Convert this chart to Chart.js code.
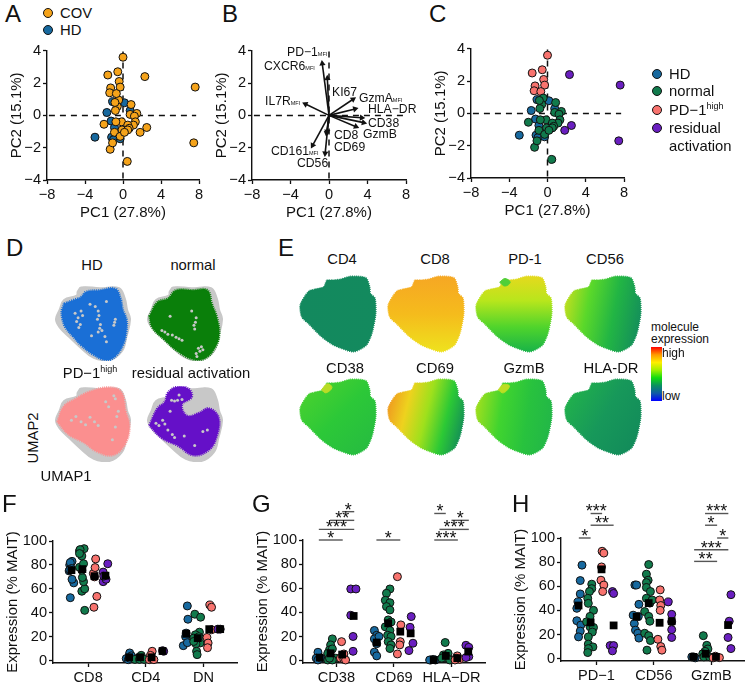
<!DOCTYPE html>
<html>
<head>
<meta charset="utf-8">
<script src="https://cdn.jsdelivr.net/npm/chart.js@4"></script>
<style>
    body { margin: 0; background: #fff; }
    #page { position: relative; width: 750px; height: 687px; overflow: hidden; font-family: "Liberation Sans", Arial, sans-serif; color: #111; }
    #page canvas { position: absolute; }
    .t { position: absolute; white-space: nowrap; transform: translateY(-50%); font-size: 14.8px; line-height: 1; }
    .c { transform: translate(-50%, -50%); }
    .letter { font-size: 24px; }
    .mfi { font-size: 5.5px; }
    sup { font-size: 9px; line-height: 0; }
    .dot { position: absolute; width: 8px; height: 8px; border-radius: 50%; border: 1px solid #111; transform: translate(-50%, -50%); }
</style>
</head>
<body>
<div id="page"></div>
<script>
// PCA scores, panels A and C
const hdPC1 = [-2.95, -1.7, -1.1, 0.15, 0.75, -1.25, -0.9, -1.2, -1.0, -0.3];
const hdPC2 = [-1.35, 0.18, 0.85, 0.78, 0.3, -0.35, -0.75, -1.35, -1.5, -1.45];
const normalPC1 = [-1.35, -1.1, 0.45, -2.0, -0.45, 0.85, -0.6, -0.85, -0.8, 1.45, 0.75, 1.2, 1.3, -0.15, -0.75, 1.1, 0.5, 0.65, -0.1, -0.9, 0.5, -0.3, 0.15];
const normalPC2 = [-2.1, -1.7, -2.85, -0.55, 0.95, 0.67, 0.55, 0.8, 0.3, 0.12, 0.06, -0.05, -0.4, -0.4, -0.4, -0.6, -0.6, -0.8, -0.9, -1.05, -0.9, -1.3, -1.05];
const pd1PC1 = [0, -1.6, -0.55, -0.4, -1.3, -0.3, -1.4, -0.7];
const pd1PC2 = [3.6, 2.5, 2.7, 2.1, 1.7, 1.75, 1.4, 1.35];
const residualPC1 = [2.3, 7.6, 7.45, 2.5, 1.8];
const residualPC2 = [2.4, 1.75, -1.7, -0.75, -1.05];
const pcXTicks = [-8, -4, 0, 4, 8];
const pcYTicks = [-4, -2, 0, 2, 4];

// Loadings, panel B
const loadingNames = ['PD-1', 'CXCR6', 'IL7R', 'KI67', 'GzmA', 'HLA-DR', 'CD38', 'GzmB', 'CD8', 'CD69', 'CD161', 'CD56'];
const loadingPC1 = [-0.17, -0.7, -2.45, 2.5, 2.7, 3.4, 3.6, 2.8, -0.25, -0.4, -1.7, -0.2];
const loadingPC2 = [2.3, 3.2, 0.7, 1.0, 0.4, -0.15, -0.45, -0.7, -1.1, -2.35, -1.85, -1.0];
const refLineX = [-7.8, 7.7];
const refLineY = [-3.9, 4];

// UMAP outlines, panel D
const umapGreyX = [29, 34, 59, 85, 93, 96, 100, 95, 89, 72, 51, 34, 18, 5, 0, 5, 11, 28];
const umapGreyY = [8, 2, 3, 3, 17, 32, 45, 69, 88, 100, 97, 84, 69, 56, 45, 32, 19, 13];
const umapHdX = [11, 24, 34, 41, 59, 80, 87, 90, 95, 95, 91, 80, 68, 51, 34, 24, 13, 9, 8];
const umapHdY = [24, 19, 15, 8, 6, 4, 17, 32, 45, 60, 78, 95, 100, 93, 80, 69, 56, 45, 34];
const umapNormalX = [2, 13, 27, 38, 61, 80, 86, 93, 96, 91, 78, 61, 40, 23, 6];
const umapNormalY = [41, 22, 17, 6, 6, 6, 24, 43, 65, 82, 97, 99, 88, 73, 56];
const umapPd1X = [2, 11, 27, 44, 71, 88, 94, 99, 92, 76, 55, 38, 17];
const umapPd1Y = [47, 26, 16, 7, 1, 7, 33, 54, 79, 92, 87, 75, 64];
const umapResidualX = [2, 13, 23, 27, 40, 55, 59, 46, 53, 69, 82, 95, 93, 82, 61, 40, 19];
const umapResidualY = [52, 29, 20, 8, 0, 3, 14, 24, 39, 35, 29, 41, 66, 85, 92, 79, 69];
const holesHdX = [26, 34, 28, 33, 57, 59, 56, 78, 80, 48, 68, 68, 46, 62, 58, 60, 57, 79, 30, 36, 31, 53, 66];
const holesHdY = [37, 34, 48, 52, 34, 57, 45, 53, 45, 67, 75, 21, 25, 60, 40, 52, 62, 49, 43, 40, 56, 28, 68];
const holesNormalX = [30, 65, 63, 27, 38, 68, 74, 59, 46, 65, 19, 64, 62, 70, 72, 66, 33, 23, 42];
const holesNormalY = [41, 43, 58, 65, 69, 84, 86, 34, 73, 91, 60, 49, 53, 88, 82, 95, 66, 62, 71];
const holesPd1X = [78, 84, 34, 57, 80, 21, 76, 46, 67, 82, 80, 40, 52, 27, 71];
const holesPd1Y = [12, 33, 47, 52, 54, 45, 71, 41, 20, 40, 16, 51, 47, 40, 27];
const holesResidualX = [42, 32, 40, 11, 27, 36, 23, 74, 63, 80, 49, 30, 36, 46, 15, 20, 33];
const holesResidualY = [11, 18, 18, 49, 58, 68, 50, 60, 79, 58, 66, 33, 19, 17, 52, 45, 64];

// Expression map outline, panel E
const mapX = [35, 42, 53, 67, 87, 92, 93, 99, 100, 96, 93, 87, 71, 53, 42, 27, 11, 2, 0, 11, 20, 31];
const mapY = [5, 5, 4, 0, 2, 14, 23, 29, 50, 72, 81, 92, 100, 95, 90, 79, 63, 54, 38, 20, 17, 14];
const markers = ['CD4', 'CD8', 'PD-1', 'CD56', 'CD38', 'CD69', 'GzmB', 'HLA-DR'];
const markerStops = [
    ['#13895e', '#138a5e'],
    ['#f6a624', '#f5bb1c', '#eee41e'],
    ['#e9d81d', '#b8e61c', '#4fd42c', '#14b04a'],
    ['#cfe01e', '#5ad82a', '#22b544', '#14905a'],
    ['#52d42c', '#2cc838', '#25b942'],
    ['#ef9620', '#eed21e', '#9fe01c', '#2cc935', '#128a5a'],
    ['#a5e01d', '#40d42f', '#28c23e', '#22b648'],
    ['#22b44a', '#17985a', '#128a5a']
];
const markerAngle = [
    [0, 0, 1, 0], [0, 0, 0, 1], [0, 0, 0, 1], [0, 0.2, 1, 0.4],
    [0, 0, 1, 1], [0, 0.35, 1, 0.6], [0, 0.4, 1, 0.55], [0, 0.2, 1, 0.8]
];
const patchX = [[], [], [31, 38, 45, 38], [], [28, 36, 42, 34], [], [29, 36, 44, 36], []];
const patchY = [[], [], [8, 3, 8, 13], [], [14, 6, 11, 18], [], [14, 7, 9, 18], []];
const patchColor = [null, null, '#50cf38', null, '#b8dc26', null, '#bcde22', null];
const colorbarStops = ['#ff0000', '#ff9a00', '#ffee00', '#a0f000', '#10dc10', '#0a9060', '#0f5aa8', '#0000ff'];

// Panel F, % of MAIT cells
const fCategories = ['CD8', 'CD4', 'DN'];
const fHDx = [0.69, 0.75, 0.72, 0.67, 0.68, 0.72, 0.69, 0.71, 0.68, 1.72, 1.66, 1.70, 1.75, 1.72, 2.72, 2.73, 2.70, 2.69, 2.65, 2.72];
const fHDy = [52.6, 65, 68, 75, 80, 83, 82, 77, 76, 6.4, 1.7, 0.8, 4, 2, 45.7, 34.6, 23, 20, 12.5, 15];
const fNormalx = [0.94, 0.89, 0.94, 0.92, 0.90, 0.89, 0.85, 0.92, 0.89, 0.85, 0.93, 0.86, 0.85, 1.92, 1.86, 1.81, 1.93, 1.89, 1.97, 2.85, 2.95, 2.93, 2.86, 2.83, 2.89, 2.94, 2.87, 2.88, 2.89, 2.92, 2.83];
const fNormaly = [42, 58, 60, 66, 69.5, 75.6, 78, 81, 87.5, 91.7, 93.6, 92.8, 89.5, 4.4, 2, 1, 2, 1, 1, 38.8, 36.3, 23.8, 21.6, 18.8, 16, 14.7, 14, 7.8, 5, 20, 16];
const fPd1x = [1.10, 1.15, 1.11, 1.09, 1.12, 1.13, 2.11, 2.08, 2.06, 2.11, 2.14, 3.11, 3.14, 3.14, 3.06, 3.08, 3.07];
const fPd1y = [44.6, 53.7, 70, 72.9, 77.8, 85, 7.8, 4.4, 0.8, 1.4, 0.8, 46.5, 44.6, 25.8, 19.4, 14.7, 10.8];
const fResidualx = [1.34, 1.26, 1.26, 1.31, 1.27, 2.29, 2.31, 3.25, 3.29];
const fResidualy = [81, 74, 66, 68, 70.6, 8.3, 7.8, 26.3, 26.3];
const fMeanx = [0.71, 0.90, 1.11, 1.30, 1.71, 1.90, 2.10, 2.29, 2.70, 2.90, 3.10, 3.29];
const fMeany = [75.6, 76.5, 70.6, 71, 2.8, 2.8, 2.8, 8, 22.4, 18.8, 26.3, 26.3];

// Panel G
const gCategories = ['CD38', 'CD69', 'HLA-DR'];
const gHDx = [0.68, 0.65, 0.71, 0.68, 0.73, 1.66, 1.70, 1.66, 1.74, 1.70, 1.66, 1.70, 2.64, 2.72, 2.68, 2.62];
const gHDy = [6.9, 2, 1.4, 0.5, 2, 25, 21, 18, 20, 14, 7, 3.9, 0.5, 0.5, 1, 0.5];
const gNormalx = [0.93, 0.90, 0.88, 0.93, 0.85, 0.90, 0.99, 0.85, 0.93, 0.88, 1.93, 1.87, 1.85, 1.93, 1.87, 1.93, 1.90, 1.95, 1.85, 1.93, 1.89, 1.95, 1.90, 1.95, 1.93, 2.89, 2.94, 2.86, 2.92, 2.97, 2.83];
const gNormaly = [18, 13, 8.8, 9.7, 6, 3.3, 2, 0.5, 0.5, 2, 59.4, 55.8, 50, 48, 44.8, 42, 33.7, 32, 28, 25, 21, 20, 15.7, 13, 10, 15, 6, 4.7, 2, 0.5, 2];
const gPd1x = [1.09, 1.13, 1.07, 1.13, 1.16, 2.06, 2.12, 2.11, 2.10, 2.06, 3.10, 3.08, 3.14, 3.06];
const gPd1y = [15.7, 5.5, 2, 1, 0.5, 69.6, 29.6, 15.7, 13, 5.5, 3.9, 2, 1, 0.5];
const gResidualx = [1.25, 1.34, 1.25, 1.29, 1.29, 2.30, 2.28, 2.33, 2.26, 3.25, 3.30, 3.30, 3.25];
const gResidualy = [59.4, 59.4, 37.6, 20, 7.7, 36.5, 27.6, 14.4, 8.3, 12.7, 11, 3.3, 2.5];
const gMeanx = [0.71, 0.90, 1.10, 1.30, 1.70, 1.90, 2.11, 2.29, 2.69, 2.90, 3.10, 3.29];
const gMeany = [2.5, 6, 5, 37, 15, 31, 24, 22.6, 0.5, 3.9, 2, 7.5];
const gBarFrom = [0.695, 0.695, 0.89, 1.10, 1.695, 2.70, 2.79, 3.0, 2.70];
const gBarTo = [1.11, 1.31, 1.31, 1.31, 2.11, 3.11, 3.30, 3.30, 2.90];
const gBarLevel = [100, 108.8, 116.3, 123.5, 100, 100, 108.8, 116.3, 122];
const gBarStars = ['*', '***', '**', '*', '*', '***', '***', '*', '*'];

// Panel H
const hCategories = ['PD-1', 'CD56', 'GzmB'];
const hHDx = [0.75, 0.72, 0.72, 0.68, 0.66, 0.66, 0.73, 0.72, 0.69, 1.67, 1.70, 1.74, 1.64, 1.73, 1.66, 1.68, 1.72, 1.74, 2.66, 2.72, 2.69];
const hHDy = [77.5, 64.7, 53.6, 47, 41.7, 31.4, 27.8, 22.8, 18, 61, 61, 45, 36, 35, 29, 23.6, 21, 17, 1.4, 0.6, 1.4];
const hNormalx = [0.92, 0.92, 0.88, 0.85, 0.86, 0.95, 0.89, 0.83, 0.89, 0.95, 0.93, 0.86, 0.86, 0.94, 0.86, 0.85, 1.91, 1.87, 1.90, 1.87, 1.87, 1.94, 1.87, 1.93, 1.97, 1.84, 1.91, 1.93, 1.84, 1.91, 1.94, 1.88, 2.86, 2.92, 2.94, 2.89, 2.85, 2.93, 2.87, 2.97];
const hNormaly = [61.7, 58, 55.6, 50, 45.8, 40, 35, 30.5, 26.4, 25.8, 22, 18, 12, 9.7, 8.3, 5, 78, 70, 65, 63, 59, 55.6, 50, 46, 48.6, 39, 35, 31, 21, 19, 15, 7, 19, 11, 8, 6, 4, 2, 1.4, 1.4];
const hPd1x = [1.10, 1.13, 1.09, 1.08, 1.13, 1.11, 2.11, 2.10, 2.12, 2.11, 2.07, 2.12, 2.14, 3.07, 3.14, 3.03];
const hPd1y = [89, 87.5, 76, 65, 61, 55.6, 57, 48.6, 44, 40, 16, 10, 7, 2, 0.8, 0.6];
const hResidualx = [1.28, 1.30, 1.24, 1.30, 1.28, 2.25, 2.31, 2.31, 2.31, 2.31, 3.34, 3.31, 3.29, 3.34];
const hResidualy = [55.6, 54, 10.8, 10.8, 6.4, 47, 36.7, 30.5, 24, 17.5, 53, 31, 17.5, 8.3];
const hMeanx = [0.69, 0.90, 1.09, 1.30, 1.70, 1.91, 2.10, 2.31, 2.69, 2.90, 3.08, 3.29];
const hMeany = [44, 30, 74, 27.5, 34.7, 46, 29.7, 31, 1.4, 4, 1.4, 27.8];
const hBarFrom = [0.695, 0.90, 0.90, 2.70, 2.70, 3.10, 2.89, 2.89];
const hBarTo = [0.90, 1.30, 1.10, 3.10, 3.295, 3.295, 3.10, 3.295];
const hBarLevel = [100, 110.6, 120.3, 80.6, 90.3, 100, 110.6, 120.3];
const hBarStars = ['*', '**', '***', '**', '***', '*', '*', '***'];
const dotTicks = [0, 20, 40, 60, 80, 100];
const catTicks = [1, 2, 3];

// Colours
const COV = '#f5a31a', HD = '#17699f', NORMAL = '#117a4c', PD1 = '#f8736e', RESIDUAL = '#6a1fc0';
const FONT = '"Liberation Sans", Arial, sans-serif';

Chart.defaults.font.family = FONT;
Chart.defaults.color = '#111';

const page = document.getElementById('page');

function pts(xs, ys) {
    return xs.map((x, i) => ({ x, y: ys[i] }));
}

function closed(xs, ys) {
    return pts(xs.concat(xs[0]), ys.concat(ys[0]));
}

function minus(s) {
    return String(s).replace(/-/g, '\u2212');
}

function addCanvas(left, top, width, height) {
    const canvas = document.createElement('canvas');
    canvas.width = width;
    canvas.height = height;
    canvas.style.left = left + 'px';
    canvas.style.top = top + 'px';
    canvas.style.width = width + 'px';
    canvas.style.height = height + 'px';
    page.appendChild(canvas);
    return canvas;
}

function addText(html, x, y, opts = {}) {
    const el = document.createElement('div');
    el.className = 't' + (opts.center ? ' c' : '') + (opts.cls ? ' ' + opts.cls : '');
    el.innerHTML = html;
    el.style.left = x + 'px';
    el.style.top = y + 'px';
    if (opts.size) el.style.fontSize = opts.size + 'px';
    if (opts.rotate) el.style.transform = 'translate(-50%, -50%) rotate(-90deg)';
    page.appendChild(el);
}

function addDot(x, y, color) {
    const el = document.createElement('div');
    el.className = 'dot';
    el.style.left = x + 'px';
    el.style.top = y + 'px';
    el.style.background = color;
    page.appendChild(el);
}

function axis(ticks, width, opts = {}) {
    return {
        type: 'linear',
        min: opts.min,
        max: opts.max,
        afterBuildTicks: scale => { scale.ticks = ticks.map(value => ({ value })); },
        afterFit: scale => {
            if (opts.boxW !== undefined) scale.width = opts.boxW;
            if (opts.boxH !== undefined) scale.height = opts.boxH;
        },
        border: { display: true, color: '#111', width: 1.4 },
        grid: { drawOnChartArea: false, drawTicks: true, tickLength: 4, tickColor: '#111', tickWidth: 1.3 },
        ticks: {
            autoSkip: false,
            maxRotation: 0,
            padding: 2,
            font: { size: 14.6 },
            color: '#111',
            callback: opts.labels || (value => minus(value))
        },
        title: opts.title ? {
            display: true,
            text: opts.title,
            font: { size: 15 },
            color: '#111',
            padding: opts.titlePad
        } : { display: false }
    };
}

function frameChart(left, top, right, bottom, boxW, boxH, padTop, padRight, datasets, scales, plugins) {
    const canvas = addCanvas(left - boxW, top - padTop, right - left + boxW + padRight, bottom - top + padTop + boxH);
    return new Chart(canvas, {
        type: 'scatter',
        data: { datasets },
        options: {
            responsive: false,
            animation: false,
            layout: { padding: { left: 0, top: padTop, right: padRight, bottom: 0 } },
            plugins: { legend: { display: false }, tooltip: { enabled: false } },
            scales
        },
        plugins: plugins || []
    });
}

function dots(xs, ys, color) {
    return {
        data: pts(xs, ys),
        backgroundColor: color,
        borderColor: '#111',
        borderWidth: 1,
        pointRadius: 4,
        clip: false
    };
}

function dashed(xs, ys) {
    return {
        data: pts(xs, ys),
        showLine: true,
        borderColor: '#111',
        borderWidth: 1.5,
        borderDash: [6, 5],
        pointRadius: 0,
        clip: false
    };
}

function pcaScales() {
    return {
        x: axis(pcXTicks, 0, { min: -8, max: 8, boxH: 45, title: 'PC1 (27.8%)', titlePad: { top: 3, bottom: 3 } }),
        y: axis(pcYTicks, 0, { min: -4, max: 4, boxW: 45, title: 'PC2 (15.1%)', titlePad: { top: 6, bottom: 6 } })
    };
}

// A: COV against HD
frameChart(47, 50, 199, 180, 45, 45, 10, 15, [
    dots(normalPC1.concat(pd1PC1, residualPC1), normalPC2.concat(pd1PC2, residualPC2), COV),
    dots(hdPC1, hdPC2, HD),
    dashed(refLineX, [0, 0]),
    dashed([0, 0], refLineY)
], pcaScales());

// B: loadings as arrows from the origin
const arrowSets = loadingNames.map((name, i) => ({
    data: [{ x: 0, y: 0 }, { x: loadingPC1[i], y: loadingPC2[i] }],
    showLine: true,
    borderColor: '#111',
    backgroundColor: '#111',
    borderWidth: 1.6,
    clip: false,
    pointRadius: [0, 3.6],
    pointBorderWidth: 0,
    pointStyle: 'triangle',
    pointRotation: ctx => {
        const { x, y } = ctx.chart.scales;
        const dx = x.getPixelForValue(loadingPC1[i]) - x.getPixelForValue(0);
        const dy = y.getPixelForValue(loadingPC2[i]) - y.getPixelForValue(0);
        return Math.atan2(dx, -dy) * 180 / Math.PI;
    }
}));
frameChart(252, 50, 406, 180, 45, 45, 10, 15, [
    ...arrowSets,
    dashed(refLineX, [0, 0]),
    dashed([0, 0], refLineY)
], pcaScales());

// C: patient groups
frameChart(471, 48, 624, 178, 45, 45, 10, 15, [
    dots(residualPC1, residualPC2, RESIDUAL),
    dots(normalPC1, normalPC2, NORMAL),
    dots(pd1PC1, pd1PC2, PD1),
    dots(hdPC1, hdPC2, HD),
    dashed(refLineX, [0, 0]),
    dashed([0, 0], refLineY)
], pcaScales());

// D: UMAP blobs, a filled outline on the grey background with grey holes on top
function umapChart(left, top, size, ox, oy, color, holesX, holesY) {
    const canvas = addCanvas(left, top, size, size);
    new Chart(canvas, {
        type: 'scatter',
        data: {
            datasets: [
                { data: pts(holesX, holesY), backgroundColor: '#c8c8c8', pointRadius: 1.5, pointBorderWidth: 0 },
                { data: closed(ox, oy), showLine: true, fill: 'shape', tension: 0.4, backgroundColor: color, borderColor: color, borderWidth: 2.4, borderDash: [1, 1], pointRadius: 0 },
                { data: closed(umapGreyX, umapGreyY), showLine: true, fill: 'shape', tension: 0.4, backgroundColor: '#c8c8c8', borderColor: '#c8c8c8', borderWidth: 1.5, pointRadius: 0 }
            ]
        },
        options: {
            responsive: false,
            animation: false,
            plugins: { legend: { display: false }, tooltip: { enabled: false } },
            scales: {
                x: { display: false, min: -1, max: 101 },
                y: { display: false, min: -1, max: 101, reverse: true }
            }
        }
    });
}
umapChart(51, 281, 84, umapHdX, umapHdY, '#1a6fd6', holesHdX, holesHdY);
umapChart(143, 281, 84, umapNormalX, umapNormalY, '#0a7f0a', holesNormalX, holesNormalY);
umapChart(51, 382, 84, umapPd1X, umapPd1Y, '#fb8f8f', holesPd1X, holesPd1Y);
umapChart(143, 382, 84, umapResidualX, umapResidualY, '#6510c8', holesResidualX, holesResidualY);

// E: marker expression over the shared map outline
function mapChart(left, top, i) {
    const size = 80;
    const canvas = addCanvas(left, top, size, size);
    const a = markerAngle[i];
    const grad = canvas.getContext('2d').createLinearGradient(a[0] * size, a[1] * size, a[2] * size, a[3] * size);
    markerStops[i].forEach((color, k, all) => grad.addColorStop(k / (all.length - 1), color));
    const datasets = [{ data: closed(mapX, mapY), showLine: true, fill: 'shape', tension: 0.25, backgroundColor: grad, borderColor: grad, borderWidth: 1.5, borderDash: [1, 1], pointRadius: 0 }];
    if (patchColor[i]) {
        datasets.unshift({ data: closed(patchX[i], patchY[i]), showLine: true, fill: 'shape', tension: 0.4, backgroundColor: patchColor[i], borderColor: patchColor[i], borderWidth: 1, pointRadius: 0 });
    }
    new Chart(canvas, {
        type: 'scatter',
        data: { datasets },
        options: {
            responsive: false,
            animation: false,
            plugins: { legend: { display: false }, tooltip: { enabled: false } },
            scales: {
                x: { display: false, min: -3, max: 103 },
                y: { display: false, min: -3, max: 103, reverse: true }
            }
        }
    });
}
const mapLefts = [298, 386, 474, 563];
const mapTops = [274, 377];
markers.forEach((m, i) => mapChart(mapLefts[i % 4], mapTops[Math.floor(i / 4)], i));

// colour scale next to E
const barCanvas = addCanvas(651, 347, 11, 54);
const barGrad = barCanvas.getContext('2d').createLinearGradient(0, 0, 0, 54);
colorbarStops.forEach((c, k, all) => barGrad.addColorStop(k / (all.length - 1), c));
new Chart(barCanvas, {
    type: 'bar',
    data: { labels: ['expression'], datasets: [{ data: [[0, 1]], backgroundColor: barGrad, barPercentage: 1, categoryPercentage: 1 }] },
    options: {
        responsive: false,
        animation: false,
        plugins: { legend: { display: false }, tooltip: { enabled: false } },
        scales: { x: { display: false }, y: { display: false, min: 0, max: 1 } }
    }
});

// F, G, H: dot plots with means and significance bars
function starPlugin(from, to, level, stars) {
    return {
        id: 'stars',
        afterDatasetsDraw(chart) {
            const { ctx, scales } = chart;
            ctx.save();
            ctx.font = '18px ' + FONT;
            ctx.fillStyle = '#111';
            ctx.textAlign = 'center';
            ctx.textBaseline = 'middle';
            stars.forEach((s, i) => {
                const x = scales.x.getPixelForValue((from[i] + to[i]) / 2);
                const y = scales.y.getPixelForValue(level[i]);
                ctx.fillText(s, x, y - 1);
            });
            ctx.restore();
        }
    };
}

function dotPlot(box, xRange, cats, series, bars) {
    const datasets = [{
        data: pts(series.meanx, series.meany),
        pointStyle: 'rect',
        backgroundColor: '#000',
        borderColor: '#000',
        pointRadius: 5.5,
        borderWidth: 0,
        clip: false
    },
    dots(series.residualx, series.residualy, RESIDUAL),
    dots(series.pd1x, series.pd1y, PD1),
    dots(series.normalx, series.normaly, NORMAL),
    dots(series.hdx, series.hdy, HD)];
    if (bars) {
        bars.from.forEach((f, i) => datasets.push({
            data: [{ x: f, y: bars.level[i] }, { x: bars.to[i], y: bars.level[i] }],
            showLine: true,
            borderColor: '#555',
            borderWidth: 1.4,
            pointRadius: 0,
            clip: false
        }));
    }
    frameChart(box[0], box[1], box[2], box[3], 50, 24, 62, 1, datasets, {
        x: axis(catTicks, 0, {
            min: xRange[0], max: xRange[1], boxH: 24,
            labels: value => minus(cats[value - 1])
        }),
        y: axis(dotTicks, 0, { min: -2, max: 100, boxW: 50, title: 'Expression (% MAIT)', titlePad: { top: 1, bottom: 1 } })
    }, bars ? [starPlugin(bars.from, bars.to, bars.level, bars.stars)] : []);
}

dotPlot([53, 541, 242, 663], [0.39, 3.59], fCategories, {
    hdx: fHDx, hdy: fHDy, normalx: fNormalx, normaly: fNormaly, pd1x: fPd1x, pd1y: fPd1y,
    residualx: fResidualx, residualy: fResidualy, meanx: fMeanx, meany: fMeany
});
dotPlot([303, 540, 490, 663], [0.42, 3.59], gCategories, {
    hdx: gHDx, hdy: gHDy, normalx: gNormalx, normaly: gNormaly, pd1x: gPd1x, pd1y: gPd1y,
    residualx: gResidualx, residualy: gResidualy, meanx: gMeanx, meany: gMeany
}, { from: gBarFrom, to: gBarTo, level: gBarLevel, stars: gBarStars });
dotPlot([561, 538, 749, 661], [0.385, 3.576], hCategories, {
    hdx: hHDx, hdy: hHDy, normalx: hNormalx, normaly: hNormaly, pd1x: hPd1x, pd1y: hPd1y,
    residualx: hResidualx, residualy: hResidualy, meanx: hMeanx, meany: hMeany
}, { from: hBarFrom, to: hBarTo, level: hBarLevel, stars: hBarStars });

// Panel letters
addText('A', 5, 14, { cls: 'letter' });
addText('B', 222, 14, { cls: 'letter' });
addText('C', 429, 14, { cls: 'letter' });
addText('D', 6, 248, { cls: 'letter' });
addText('E', 278, 248, { cls: 'letter' });
addText('F', 2, 504, { cls: 'letter' });
addText('G', 252, 504, { cls: 'letter' });
addText('H', 512, 504, { cls: 'letter' });

// Legends
addDot(48, 13, COV);
addText('COV', 60, 13);
addDot(48, 30, HD);
addText('HD', 60, 30);
addDot(657, 74, HD);
addText('HD', 669, 74);
addDot(657, 91, NORMAL);
addText('normal', 669, 91);
addDot(657, 110, PD1);
addText('PD\u22121<sup>high</sup>', 669, 110);
addDot(657, 128, RESIDUAL);
addText('residual', 669, 128);
addText('activation', 669, 146);

// Loading labels on B
const mfi = '<span class="mfi">MFI</span>';
const B_SIZE = 12.2;
addText('PD\u22121' + mfi, 287, 52, { size: B_SIZE });
addText('CXCR6' + mfi, 264, 66, { size: B_SIZE });
addText('IL7R' + mfi, 265, 101, { size: B_SIZE });
addText('KI67', 332, 92, { size: B_SIZE });
addText('GzmA' + mfi, 359, 98, { size: B_SIZE });
addText('HLA\u2212DR', 368, 109, { size: B_SIZE });
addText('CD38', 368, 123, { size: B_SIZE });
addText('GzmB', 363, 134, { size: B_SIZE });
addText('CD8', 334, 135, { size: B_SIZE });
addText('CD69', 334, 147, { size: B_SIZE });
addText('CD161' + mfi, 271, 151, { size: B_SIZE });
addText('CD56', 297, 163, { size: B_SIZE });

// D labels
addText('HD', 92, 265, { center: true });
addText('normal', 193, 265, { center: true });
addText('PD\u22121<sup>high</sup>', 90, 373, { center: true });
addText('residual activation', 191, 373, { center: true });
addText('UMAP2', 33, 438, { rotate: true });
addText('UMAP1', 66, 476, { center: true });

// E labels
const mapLabelX = [342, 435, 525, 605, 345, 435, 524, 611];
markers.forEach((m, i) => addText(m, mapLabelX[i], i < 4 ? 259 : 368, { center: true }));
addText('molecule', 651, 327, { size: 12 });
addText('expression', 651, 339, { size: 12 });
addText('high', 662, 353, { size: 12 });
addText('low', 662, 396, { size: 12 });
</script>
</body>
</html>
